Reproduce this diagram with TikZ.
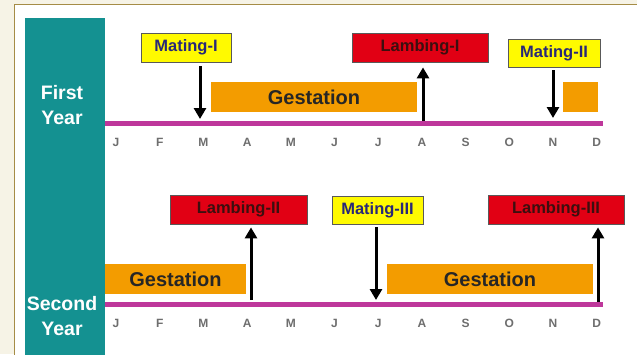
\documentclass[tikz,border=0pt]{standalone}
\usepackage{fontspec}
\setmainfont{Liberation Sans}
\usetikzlibrary{arrows.meta}
\definecolor{cream}{RGB}{246,243,230}
\definecolor{framec}{RGB}{165,140,70}
\definecolor{tealc}{RGB}{20,145,145}
\definecolor{orangec}{RGB}{243,156,0}
\definecolor{redc}{RGB}{225,0,20}
\definecolor{yellowc}{RGB}{255,250,0}
\definecolor{magc}{RGB}{190,55,155}
\definecolor{navyc}{RGB}{40,40,120}
\definecolor{darkredc}{RGB}{60,15,15}
\definecolor{monthc}{RGB}{110,110,110}
\tikzset{
  matebox/.style={draw=gray!70!black, line width=0.8pt, fill=yellowc, inner sep=0pt,
    text=navyc, font=\bfseries\fontsize{16.5}{16.5}\selectfont},
  lambbox/.style={draw=gray!70!black, line width=0.8pt, fill=redc, inner sep=0pt,
    text=darkredc, font=\bfseries\fontsize{16.5}{16.5}\selectfont},
  gestbox/.style={fill=orangec, inner sep=0pt, text=black!85,
    font=\bfseries\fontsize{20}{20}\selectfont},
  monthlbl/.style={text=monthc, font=\bfseries\fontsize{12}{12}\selectfont, inner sep=0pt},
  yearlbl/.style={text=white, font=\bfseries\fontsize{19.5}{25}\selectfont, align=center, inner sep=0pt},
  arr/.style={line width=3pt, -{Triangle[width=12pt,length=11pt]}},
  tline/.style={line width=5pt, magc}
}
\begin{document}
\begin{tikzpicture}[x=1pt,y=-1pt]
\useasboundingbox (0,0) rectangle (637,354);
\fill[cream] (0,0) rectangle (637,354);
\filldraw[fill=white, draw=framec, line width=1pt] (14,4) rectangle (640,360);
\fill[tealc] (25,18) rectangle (105,360);
\node[yearlbl] (y1) at (62,105) {First\\Year};
\node[yearlbl] (y2) at (62,316) {Second\\Year};
% timelines
\coordinate (t1a) at (105,123); \coordinate (t1b) at (603,123);
\coordinate (t2a) at (105,304); \coordinate (t2b) at (603,304);
\draw[tline] (t1a) -- (t1b);
\draw[tline] (t2a) -- (t2b);
% months
\foreach \m [count=\i from 0] in {J,F,M,A,M,J,J,A,S,O,N,D}{
  \node[monthlbl] (ma\i) at (116+43.7*\i,142) {\m};
  \node[monthlbl] (mb\i) at (116+43.7*\i,323) {\m};
}
% Row 1
\node[gestbox, minimum width=206pt, minimum height=30pt] (g1) at (314,97) {Gestation};
\node[gestbox, minimum width=35pt, minimum height=30pt] (g2) at (580.5,97) {};
\node[matebox, minimum width=90pt, minimum height=29pt] (mate1) at (186,47.5) {Mating-I};
\node[lambbox, minimum width=136pt, minimum height=29pt] (lamb1) at (420,47.5) {Lambing-I};
\node[matebox, minimum width=92pt, minimum height=28pt] (mate2) at (554,53) {Mating-II};
\coordinate (a1) at (200,119);
\coordinate (a2) at (423,121);
\coordinate (a3) at (553,118);
\draw[arr] ([yshift=-4pt]mate1.south -| a1) -- (a1);
\draw[arr] (a2) -- ([yshift=-5pt]lamb1.south -| a2);
\draw[arr] ([yshift=-3pt]mate2.south -| a3) -- (a3);
% Row 2
\node[gestbox, minimum width=141pt, minimum height=30pt] (g3) at (175.5,279) {Gestation};
\node[gestbox, minimum width=206pt, minimum height=30pt] (g4) at (490,279) {Gestation};
\node[lambbox, minimum width=137pt, minimum height=29pt] (lamb2) at (238.5,209.5) {Lambing-II};
\node[matebox, minimum width=91pt, minimum height=28pt] (mate3) at (377.5,210) {Mating-III};
\node[lambbox, minimum width=136pt, minimum height=29pt] (lamb3) at (556,209.5) {Lambing-III};
\coordinate (b1) at (251,300);
\coordinate (b2) at (376,300);
\coordinate (b3) at (598,302);
\draw[arr] (b1) -- ([yshift=-3pt]lamb2.south -| b1);
\draw[arr] ([yshift=-3pt]mate3.south -| b2) -- (b2);
\draw[arr] (b3) -- ([yshift=-3pt]lamb3.south -| b3);
\end{tikzpicture}
\end{document}
